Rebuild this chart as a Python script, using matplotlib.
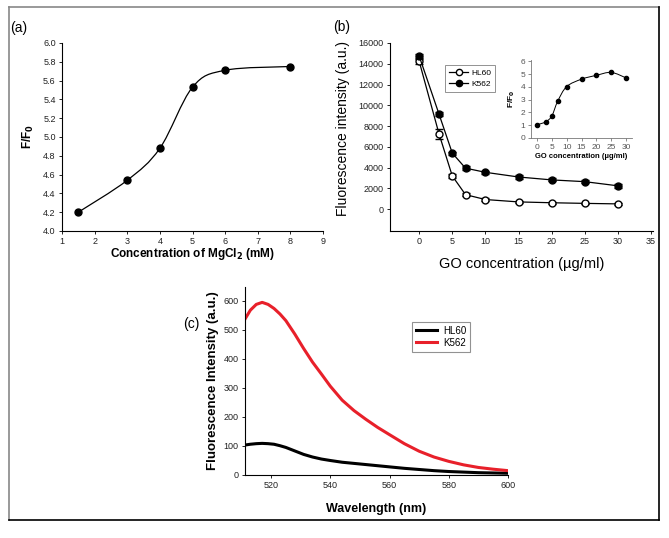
import matplotlib
matplotlib.use('Agg')
import matplotlib.pyplot as plt
import numpy as np
from matplotlib.path import Path
from matplotlib.patches import PathPatch
from matplotlib.lines import Line2D

plt.rcParams['font.family'] = ['Liberation Sans', 'DejaVu Sans']

# ---------------- data ----------------
# Panel (a)
mg_conc = [1.5, 3, 4, 5, 6, 8]
mg_ratio = [4.20, 4.54, 4.88, 5.53, 5.71, 5.75]

# Panel (b)
go_conc = [0, 3, 5, 7, 10, 15, 20, 25, 30]
hl60_int = [14250, 7250, 3200, 1400, 930, 700, 620, 560, 510]
hl60_err = [250, 450, 150, 120, 100, 80, 80, 80, 80]
k562_int = [14750, 9150, 5400, 3950, 3550, 3100, 2820, 2650, 2250]
k562_err = [200, 200, 150, 200, 150, 150, 150, 150, 200]
inset_ratio = [1.03, 1.27, 1.72, 2.88, 4.02, 4.60, 4.90, 5.13, 4.70]

# Panel (c)
wavelength = [511, 513, 515, 517, 519, 521, 523, 525, 528, 531, 534, 537, 540,
              544, 548, 552, 556, 560, 565, 570, 575, 580, 585, 590, 595, 600]
k562_spec = [534, 568, 588, 595, 588, 574, 555, 532, 486, 436, 389, 348, 306,
             258, 222, 192, 164, 139, 108, 82, 62, 47, 35, 26, 20, 15]
hl60_spec = [103, 106, 108, 109, 108, 106, 101, 95, 83, 71, 62, 55, 50,
             44, 40, 36, 32, 28, 23, 19, 15, 12, 10, 8, 7, 6]

W, H = 669, 538


def smooth_path(x, y):
    pts = np.column_stack([x, y]).astype(float)
    verts = [pts[0]]
    codes = [Path.MOVETO]
    n = len(pts)
    for i in range(n - 1):
        p0 = pts[i - 1] if i > 0 else pts[i]
        p1 = pts[i]
        p2 = pts[i + 1]
        p3 = pts[i + 2] if i + 2 < n else pts[i + 1]
        c1 = p1 + (p2 - p0) / 6.0
        c2 = p2 - (p3 - p1) / 6.0
        verts += [c1, c2, p2]
        codes += [Path.CURVE4] * 3
    return Path(verts, codes)


def ax_rect(l, r, t, b):
    return [l / W, 1 - b / H, (r - l) / W, (b - t) / H]


def style(ax, color='black', lw=0.8, size=6.5):
    ax.spines['top'].set_visible(False)
    ax.spines['right'].set_visible(False)
    for s in ('left', 'bottom'):
        ax.spines[s].set_color(color)
        ax.spines[s].set_linewidth(lw)
    ax.tick_params(direction='out', length=2.5, width=0.6, labelsize=size,
                   pad=2, colors=color, labelcolor='#222222')


fig = plt.figure(figsize=(W / 100, H / 100), dpi=100)

# ---------------- panel (a) ----------------
axa = fig.add_axes(ax_rect(62, 323, 43, 231))
style(axa)
axa.add_patch(PathPatch(smooth_path(mg_conc, mg_ratio), fill=False,
                        edgecolor='black', lw=0.9))
axa.plot(mg_conc, mg_ratio, 'o', color='black', ms=5)
axa.set_xlim(1, 9)
axa.set_ylim(4.0, 6.0)
axa.set_xticks(range(1, 10))
axa.set_yticks(np.arange(4.0, 6.01, 0.2))
axa.set_yticklabels([f'{v:.1f}' for v in np.arange(4.0, 6.01, 0.2)])
axa.set_xlabel('Concentration of MgCl$_\\mathbf{2}$ (mM)', fontsize=8.5,
               fontweight='bold', labelpad=0)
axa.set_ylabel('F/F$_\\mathbf{0}$', fontsize=8.5, fontweight='bold', labelpad=5)

# ---------------- panel (b) ----------------
axb = fig.add_axes(ax_rect(390, 653, 43, 231))
style(axb)
axb.errorbar(go_conc, hl60_int, yerr=hl60_err, fmt='-o', color='black',
             mfc='white', mec='black', ms=5, lw=0.9, capsize=3, elinewidth=0.8,
             zorder=3)
axb.errorbar(go_conc, k562_int, yerr=k562_err, fmt='-o', color='black',
             mfc='black', ms=5, lw=0.9, capsize=3, elinewidth=0.8,
             zorder=3)
axb.set_xlim(-4.4, 35.3)
axb.set_ylim(-2100, 16000)
axb.set_xticks(range(0, 36, 5))
axb.set_yticks(range(0, 16001, 2000))
axb.set_xlabel('GO concentration (\u00b5g/ml)', fontsize=10.5, labelpad=8)
axb.set_ylabel('Fluorescence intensity (a.u.)', fontsize=10)
axb.yaxis.set_label_coords((350 - 390) / 263, (231 - 128) / 188)
handles = [Line2D([], [], color='black', marker='o', mfc='white', mec='black',
                  ms=4.5, lw=0.9),
           Line2D([], [], color='black', marker='o', mfc='black', ms=4.5, lw=0.9)]
leg = axb.legend(handles, ['HL60', 'K562'], loc='upper left',
                 bbox_to_anchor=((441 - 390) / 263, (231 - 61) / 188),
                 fontsize=6, frameon=True, fancybox=False, handlelength=2.2,
                 borderpad=0.5, labelspacing=0.35, handletextpad=0.4)
leg.get_frame().set_edgecolor('#777777')
leg.get_frame().set_linewidth(0.7)

# inset
axi = fig.add_axes(ax_rect(531, 632, 60, 138))
style(axi, color='#777777', lw=0.6, size=6)
axi.add_patch(PathPatch(smooth_path(go_conc, inset_ratio), fill=False,
                        edgecolor='black', lw=0.7))
axi.plot(go_conc, inset_ratio, 'o', color='black', ms=3)
axi.set_xlim(-2, 32)
axi.set_ylim(0, 6.1)
axi.set_xticks(range(0, 31, 5))
axi.set_yticks(range(0, 7))
axi.tick_params(labelcolor='#555555', pad=1.5)
axi.set_xlabel('GO concentration (\u00b5g/ml)', fontsize=5.5, fontweight='bold',
               labelpad=2)
axi.set_ylabel('F/F$_\\mathbf{0}$', fontsize=6, fontweight='bold', labelpad=3)

# ---------------- panel (c) ----------------
axc = fig.add_axes(ax_rect(245, 508, 287, 475))
style(axc)
axc.plot(wavelength, hl60_spec, color='black', lw=2.2, label='HL60')
axc.plot(wavelength, k562_spec, color='#e8202a', lw=2.2, label='K562')
axc.set_xlim(511.2, 600)
axc.set_ylim(0, 648)
axc.set_xticks(range(520, 601, 20))
axc.set_yticks(range(0, 601, 100))
axc.set_xlabel('Wavelength (nm)', fontsize=9, fontweight='bold', labelpad=9)
axc.set_ylabel('Fluorescence Intensity (a.u.)', fontsize=9.5, fontweight='bold',
               labelpad=3)
legc = axc.legend(loc='upper left', bbox_to_anchor=((407 - 245) / 263, (475 - 317) / 188),
                  fontsize=7, frameon=True, fancybox=False, handlelength=2.2,
                  borderpad=0.4, labelspacing=0.2, handletextpad=0.6)
legc.get_frame().set_edgecolor('#777777')
legc.get_frame().set_linewidth(0.8)

# ---------------- panel labels & frame ----------------
fig.text(10 / W, 1 - 28 / H, '(a)', fontsize=10, va='center', ha='left')
fig.text(333 / W, 1 - 27 / H, '(b)', fontsize=10, va='center', ha='left')
fig.text(183 / W, 1 - 324 / H, '(c)', fontsize=10, va='center', ha='left')

x0, x1, y0, y1 = 9 / W, 659 / W, 1 - 520 / H, 1 - 7 / H
fig.add_artist(Line2D([x0, x0], [y0, y1], transform=fig.transFigure, color='#888888', lw=1.2))
fig.add_artist(Line2D([x0, x1], [y1, y1], transform=fig.transFigure, color='#888888', lw=1.2))
fig.add_artist(Line2D([x1, x1], [y0, y1], transform=fig.transFigure, color='black', lw=1.2))
fig.add_artist(Line2D([x0, x1], [y0, y0], transform=fig.transFigure, color='black', lw=1.2))

fig.savefig('out.png', dpi=100)
